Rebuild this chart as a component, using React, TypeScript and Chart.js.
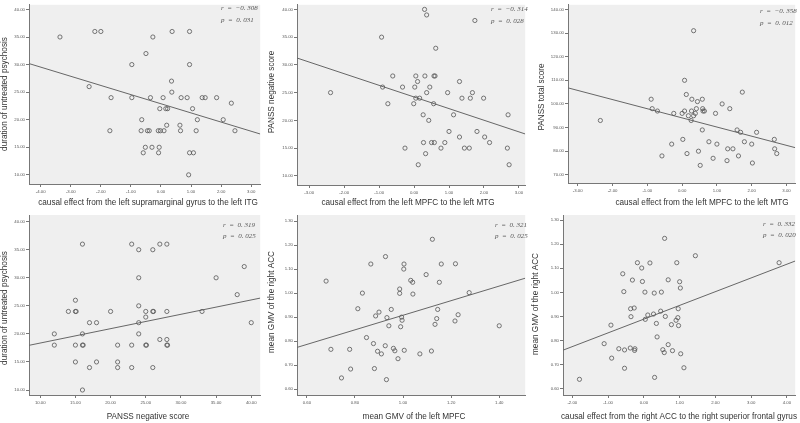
import React, { useEffect, useRef } from "react";
import { Chart, registerables } from "chart.js";
Chart.register(...registerables);

// ---------- data ----------
const p1X = [-3.36,-2.2,-2.0,-2.39,-1.66,-1.7,-0.97,-0.97,-0.5,-0.27,-0.35,-0.64,-0.66,-0.45,-0.39,-0.52,-0.3,-0.59,-0.09,-0.02,0.1,-0.06,-0.08,-0.04,0.07,0.16,0.22,0.19,0.37,0.35,0.36,0.67,0.63,0.65,0.87,0.95,0.95,1.05,1.21,1.17,0.95,1.08,0.92,1.37,1.47,1.85,2.34,2.07,2.46];
const p1Y = [35,36,36,26,24,18,30,24,32,35,24,20,18,18,18,15,15,14,18,18,18,15,14,22,24,22,22,19,36,27,25,24,19,18,24,36,30,22,20,18,14,14,10,24,24,24,23,20,18];
const p1LineX = [-4.39, 3.30];
const p1LineY = [30.18, 17.41];

const p2X = [-2.39,-0.93,-0.9,-0.75,-0.61,-0.33,-0.26,-0.01,0.02,0.05,0.05,0.1,0.16,0.12,0.26,0.27,0.31,0.33,0.3,0.36,0.36,0.45,0.42,0.5,0.58,0.56,0.57,0.6,0.62,0.77,0.88,0.96,1.0,1.13,1.3,1.3,1.37,1.44,1.58,1.61,1.67,1.74,1.8,1.99,2.02,2.16,2.69,2.67,2.72];
const p2Y = [25,35,26,23,28,26,15,23,26,28,24,27,24,12,21,16,28,14,40,39,25,26,20,16,16,23,28,28,33,15,16,25,18,21,17,27,24,15,15,24,25,38,18,24,17,16,21,15,12];
const p2LineX = [-3.35, 3.18];
const p2LineY = [31.24, 17.55];

const p3X = [-2.35,-0.89,-0.86,-0.71,-0.58,-0.3,-0.24,0.02,0.0,0.07,0.07,0.12,0.14,0.18,0.26,0.27,0.28,0.33,0.33,0.38,0.41,0.44,0.47,0.52,0.58,0.59,0.6,0.64,0.58,0.77,0.89,0.96,1.0,1.15,1.29,1.31,1.37,1.46,1.58,1.62,1.68,1.73,1.79,2.0,2.02,2.14,2.65,2.66,2.72];
const p3Y = [93,102,98,97,78,83,96,85,96,97,110,104,79,95,93,97,102,131,95,96,98,101,80,74,102,98,97,97,89,84,77,96,83,100,76,81,98,81,89,78,88,105,84,83,75,88,85,81,79];
const p3LineX = [-3.28, 3.25];
const p3LineY = [106.8, 81.5];

const p4X = [12,12,14,15,15,15.1,15,15,16,16,16,16.1,16,17,17,18,18,20,21,21,21,23,23,23,24,24,24,24,24,25,25,25,25.1,26,26,26.1,26,27,27,28,28,28,28,28.1,33,35,38,39,40];
const p4Y = [20,18,24,26,24,24,18,15,36,20,18,18,10,22,14,22,15,24,18,15,14,36,18,14,35,30,25,22,20,24,23,18,18,35,24,24,14,36,19,36,24,19,18,18,24,30,27,32,22];
const p4LineX = [8.4, 41.27];
const p4LineY = [17.96, 26.38];

const p5X = [0.68,0.70,0.744,0.778,0.782,0.812,0.831,0.848,0.866,0.877,0.881,0.886,0.894,0.9,0.91,0.927,0.926,0.931,0.933,0.941,0.951,0.96,0.966,0.979,0.986,0.986,0.99,0.994,0.996,1.003,1.004,1.005,1.032,1.04,1.041,1.07,1.096,1.118,1.122,1.133,1.14,1.144,1.151,1.159,1.216,1.218,1.229,1.275,1.4];
const p5Y = [1.05,0.766,0.647,0.766,0.684,0.935,1.0,0.815,1.121,0.79,0.686,0.905,0.758,0.921,0.747,1.152,0.781,0.64,0.898,0.864,0.932,0.77,0.76,0.727,1.017,0.999,0.86,0.9,0.887,1.1,1.121,0.762,1.053,1.045,0.996,0.747,1.077,0.759,1.224,0.87,0.894,0.932,1.045,1.121,0.884,1.122,0.91,1.002,0.864];
const p5LineX = [0.559, 1.508];
const p5LineY = [0.774, 1.062];

const p6X = [-1.8,-1.11,-0.92,-0.9,-0.7,-0.59,-0.56,-0.54,-0.54,-0.38,-0.37,-0.36,-0.32,-0.27,-0.26,-0.25,-0.18,-0.06,-0.04,0.03,0.04,0.11,0.17,0.27,0.29,0.3,0.35,0.37,0.47,0.49,0.53,0.57,0.58,0.6,0.68,0.68,0.77,0.8,0.9,0.92,0.95,0.96,0.97,1.0,1.02,1.03,1.12,1.44,3.78];
const p6Y = [0.639,0.787,0.864,0.727,0.766,1.077,1.003,0.761,0.685,0.769,0.932,0.899,1.051,0.935,0.759,0.766,1.123,1.101,1.045,1.001,0.888,0.906,1.122,0.91,0.997,0.647,0.871,0.815,0.922,1.001,0.762,0.75,1.224,0.9,0.783,1.052,0.866,0.758,0.884,1.123,0.895,0.932,0.862,1.044,1.018,0.745,0.687,1.152,1.123];
const p6LineX = [-2.26, 4.23];
const p6LineY = [0.76, 1.13];

// ticks
const ticksX1 = [-4, -3, -2, -1, 0, 1, 2, 3];
const ticksX23 = [-3, -2, -1, 0, 1, 2, 3];
const ticksX4 = [10, 15, 20, 25, 30, 35, 40];
const ticksX5 = [0.6, 0.8, 1.0, 1.2, 1.4];
const ticksX6 = [-2, -1, 0, 1, 2, 3, 4];
const ticksDup = [10, 15, 20, 25, 30, 35, 40];
const ticksPanss = [70, 80, 90, 100, 110, 120, 130, 140];
const ticksGmv = [0.6, 0.7, 0.8, 0.9, 1.0, 1.1, 1.2, 1.3];

// axis ranges
const range1 = { x: [-4.39, 3.30], y: [8.34, 40.84] };
const range2 = { x: [-3.35, 3.18], y: [8.35, 40.83] };
const range3 = { x: [-3.28, 3.25], y: [66.54, 141.96] };
const range4 = { x: [8.4, 41.27], y: [9.11, 41.19] };
const range5 = { x: [0.559, 1.508], y: [0.576, 1.325] };
const range6 = { x: [-2.26, 4.23], y: [0.574, 1.321] };

// texts
const xTitles = [
  "causal effect from the left supramarginal gyrus to the left ITG",
  "causal effect from the left MPFC to the left MTG",
  "causal effect from the left MPFC to the left MTG",
  "PANSS negative score",
  "mean GMV of the left MPFC",
  "causal effect from the right ACC to the right superior frontal gyrus",
];
const yTitles = [
  "duration of untreated psychosis",
  "PANSS negative score",
  "PANSS total score",
  "duration of untreated psychosis",
  "mean GMV of the right ACC",
  "mean GMV of the right ACC",
];
const rTexts = ["r  =  −0. 308", "r  =  −0. 314", "r  =  −0. 358", "r  =  0. 319", "r  =  0. 321", "r  =  0. 332"];
const pTexts = ["p  =  0. 031", "p  =  0. 028", "p  =  0. 012", "p  =  0. 025", "p  =  0. 025", "p  =  0. 020"];

// ---------- layout (pixels) ----------
type Cfg = {
  canvas: number[]; area: number[];
  range: { x: number[]; y: number[] };
  xt: number[]; yt: number[];
  xs: number[]; ys: number[]; lx: number[]; ly: number[];
  xTitle: string; yTitle: string; r: string; p: string;
  xT: number[]; yT: number[]; ann: number[];
};

const panels: Cfg[] = [
  { canvas: [0, 0, 265, 210], area: [29, 2, 263, 184], range: range1, xt: ticksX1, yt: ticksDup, xs: p1X, ys: p1Y, lx: p1LineX, ly: p1LineY, xTitle: xTitles[0], yTitle: yTitles[0], r: rTexts[0], p: pTexts[0], xT: [148, 203], yT: [5, 94], ann: [221, 8, 20] },
  { canvas: [265, 0, 265, 210], area: [297, 2, 528, 185], range: range2, xt: ticksX23, yt: ticksDup, xs: p2X, ys: p2Y, lx: p2LineX, ly: p2LineY, xTitle: xTitles[1], yTitle: yTitles[1], r: rTexts[1], p: pTexts[1], xT: [408, 203], yT: [272, 92], ann: [491, 9, 21] },
  { canvas: [530, 0, 270, 210], area: [568, 2, 800, 183], range: range3, xt: ticksX23, yt: ticksPanss, xs: p3X, ys: p3Y, lx: p3LineX, ly: p3LineY, xTitle: xTitles[2], yTitle: yTitles[2], r: rTexts[2], p: pTexts[2], xT: [702, 203], yT: [542, 97], ann: [760, 11, 23] },
  { canvas: [0, 210, 265, 213], area: [29, 215, 263, 395], range: range4, xt: ticksX4, yt: ticksDup, xs: p4X, ys: p4Y, lx: p4LineX, ly: p4LineY, xTitle: xTitles[3], yTitle: yTitles[3], r: rTexts[3], p: pTexts[3], xT: [148, 417], yT: [5, 308], ann: [223, 225, 236] },
  { canvas: [265, 210, 265, 213], area: [297, 215, 528, 395], range: range5, xt: ticksX5, yt: ticksGmv, xs: p5X, ys: p5Y, lx: p5LineX, ly: p5LineY, xTitle: xTitles[4], yTitle: yTitles[4], r: rTexts[4], p: pTexts[4], xT: [414, 417], yT: [272, 302], ann: [495, 225, 236] },
  { canvas: [530, 210, 270, 213], area: [563, 215, 800, 395], range: range6, xt: ticksX6, yt: ticksGmv, xs: p6X, ys: p6Y, lx: p6LineX, ly: p6LineY, xTitle: xTitles[5], yTitle: yTitles[5], r: rTexts[5], p: pTexts[5], xT: [679, 417], yT: [536, 304], ann: [763, 224, 235] },
];

const SANS = '"Liberation Sans", Arial, sans-serif';
const SERIF = '"Liberation Serif", "Times New Roman", serif';

function Panel({ cfg }: { cfg: Cfg }) {
  const ref = useRef<HTMLCanvasElement>(null);
  useEffect(() => {
    if (!ref.current) return;
    const [cx, cy, cw, ch] = cfg.canvas;
    const [al, at, ar, ab] = cfg.area;
    const yW = al - cx;
    const xH = cy + ch - ab;

    const deco = {
      id: "deco",
      beforeDraw(chart: any) {
        const { ctx, chartArea } = chart;
        ctx.save();
        ctx.fillStyle = "#efefef";
        ctx.fillRect(chartArea.left, chartArea.top, chartArea.right - chartArea.left, chartArea.bottom - chartArea.top);
        ctx.restore();
      },
      afterDraw(chart: any) {
        const { ctx } = chart;
        ctx.save();
        ctx.fillStyle = "#333";
        ctx.font = `8.2px ${SANS}`;
        ctx.textAlign = "center";
        ctx.textBaseline = "middle";
        ctx.fillText(cfg.xTitle, cfg.xT[0] - cx, cfg.xT[1] - cy);
        ctx.save();
        ctx.translate(cfg.yT[0] - cx, cfg.yT[1] - cy);
        ctx.rotate(-Math.PI / 2);
        ctx.fillText(cfg.yTitle, 0, 0);
        ctx.restore();
        ctx.fillStyle = "#555";
        ctx.font = `italic 7px ${SERIF}`;
        ctx.textAlign = "left";
        ctx.fillText(cfg.r, cfg.ann[0] - cx, cfg.ann[1] - cy);
        ctx.fillText(cfg.p, cfg.ann[0] - cx, cfg.ann[2] - cy);
        ctx.restore();
      },
    };

    const tickFont = { size: 4.3, family: SANS };
    const chart = new Chart(ref.current, {
      type: "scatter",
      data: {
        datasets: [
          {
            data: cfg.xs.map((x, i) => ({ x, y: cfg.ys[i] })),
            pointRadius: 2.1,
            pointBorderWidth: 0.8,
            pointBorderColor: "#555",
            pointBackgroundColor: "rgba(0,0,0,0)",
            order: 0,
          },
          {
            data: cfg.lx.map((x, i) => ({ x, y: cfg.ly[i] })),
            showLine: true,
            pointRadius: 0,
            borderColor: "#666",
            borderWidth: 1,
            order: 1,
          },
        ],
      } as any,
      options: {
        animation: false,
        responsive: false,
        devicePixelRatio: 1,
        layout: { padding: { left: 0, top: at - cy, right: cx + cw - ar, bottom: 0 } },
        plugins: { legend: { display: false }, tooltip: { enabled: false } },
        scales: {
          x: {
            type: "linear",
            min: cfg.range.x[0],
            max: cfg.range.x[1],
            afterBuildTicks: (s: any) => { s.ticks = cfg.xt.map((v) => ({ value: v })); },
            afterFit: (s: any) => { s.height = xH; s.paddingLeft = 0; s.paddingRight = 0; s.paddingTop = 0; s.paddingBottom = 0; },
            ticks: { callback: (v: any) => Number(v).toFixed(2), font: tickFont, color: "#555", padding: 2, maxRotation: 0, autoSkip: false },
            grid: { drawOnChartArea: false, drawTicks: true, tickLength: 3, color: "#777" },
            border: { color: "#777" },
          },
          y: {
            type: "linear",
            min: cfg.range.y[0],
            max: cfg.range.y[1],
            afterBuildTicks: (s: any) => { s.ticks = cfg.yt.map((v) => ({ value: v })); },
            afterFit: (s: any) => { s.width = yW; s.paddingLeft = 0; s.paddingRight = 0; s.paddingTop = 0; s.paddingBottom = 0; },
            ticks: { callback: (v: any) => Number(v).toFixed(2), font: tickFont, color: "#555", padding: 1, autoSkip: false },
            grid: { drawOnChartArea: false, drawTicks: true, tickLength: 3, color: "#777" },
            border: { color: "#777" },
          },
        },
      } as any,
      plugins: [deco],
    });
    return () => chart.destroy();
  }, [cfg]);
  const [cx, cy, cw, ch] = cfg.canvas;
  return (
    <canvas
      ref={ref}
      width={cw}
      height={ch}
      style={{ position: "absolute", left: cx, top: cy, width: cw, height: ch }}
    />
  );
}

export default function App() {
  return (
    <div style={{ position: "fixed", left: 0, top: 0, width: 800, height: 423, background: "#fff", overflow: "hidden" }}>
      {panels.map((p, i) => (
        <Panel key={i} cfg={p} />
      ))}
    </div>
  );
}
